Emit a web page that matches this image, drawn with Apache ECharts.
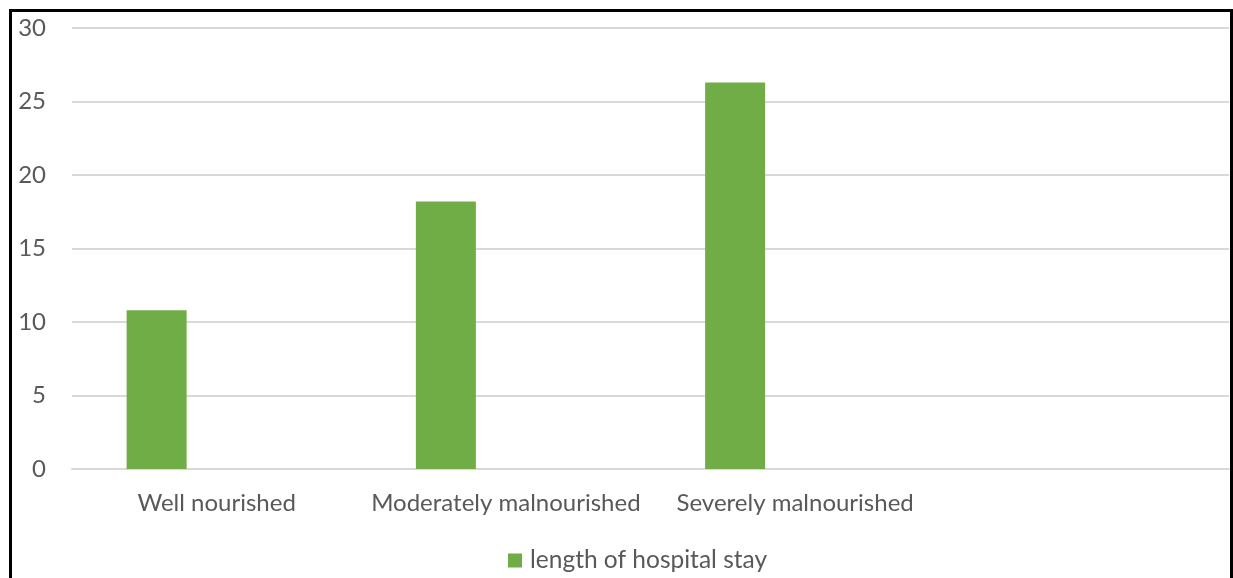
<!DOCTYPE html>
<html>
<head>
<meta charset="utf-8">
<script src="https://cdn.jsdelivr.net/npm/echarts@6/dist/echarts.min.js"></script>
<style>
  html, body { margin: 0; padding: 0; background: #ffffff; }
  #chart { width: 1233px; height: 578px; }
</style>
</head>
<body>
<div id="chart"></div>
<script>
// Nutritional status groups (the fourth slot is left empty)
const categories = ['Well nourished', 'Moderately malnourished', 'Severely malnourished', ''];
// Mean length of hospital stay (days) per group
const seriesName = 'length of hospital stay';
const stayValues = [10.8, 18.2, 26.3, null];
// Two unused companion series keep the bars offset within each group
const emptyA = [null, null, null, null];
const emptyB = [null, null, null, null];
const yTicks = { min: 0, max: 30, interval: 5 };

const textColor = '#595959';
const fontFamily = 'Lato, "Open Sans", "Noto Sans", sans-serif';

const chart = echarts.init(document.getElementById('chart'), null, { renderer: 'canvas' });
chart.setOption({
  animation: false,
  backgroundColor: '#ffffff',
  graphic: [{
    type: 'rect',
    shape: { x: 10.5, y: 10.5, width: 1221, height: 600 },
    style: { fill: 'none', stroke: '#000000', lineWidth: 3 },
    silent: true
  }],
  grid: { left: 72, right: 4, top: 28, bottom: 109, containLabel: false },
  legend: {
    data: [seriesName],
    bottom: 0,
    left: 503,
    itemWidth: 14,
    itemHeight: 14,
    itemGap: 10,
    icon: 'rect',
    textStyle: { color: textColor, fontSize: 24.5, fontFamily: fontFamily, padding: [0, 0, 0, 3] }
  },
  xAxis: {
    type: 'category',
    data: categories,
    axisLine: { lineStyle: { color: '#d9d9d9', width: 2 } },
    axisTick: { show: false },
    axisLabel: { color: textColor, fontSize: 24, fontFamily: fontFamily, margin: 22, interval: 0 }
  },
  yAxis: {
    type: 'value',
    min: yTicks.min,
    max: yTicks.max,
    interval: yTicks.interval,
    axisLine: { show: false },
    axisTick: { show: false },
    axisLabel: { color: textColor, fontSize: 24, fontFamily: fontFamily, margin: 26 },
    splitLine: { lineStyle: { color: '#d9d9d9', width: 2 } }
  },
  series: [
    {
      name: seriesName,
      type: 'bar',
      data: stayValues,
      barWidth: 60,
      barGap: '0%',
      itemStyle: { color: '#70ad47' }
    },
    { name: 'blank1', type: 'bar', data: emptyA, barWidth: 60, barGap: '0%' },
    { name: 'blank2', type: 'bar', data: emptyB, barWidth: 60, barGap: '0%' }
  ]
});
</script>
</body>
</html>
